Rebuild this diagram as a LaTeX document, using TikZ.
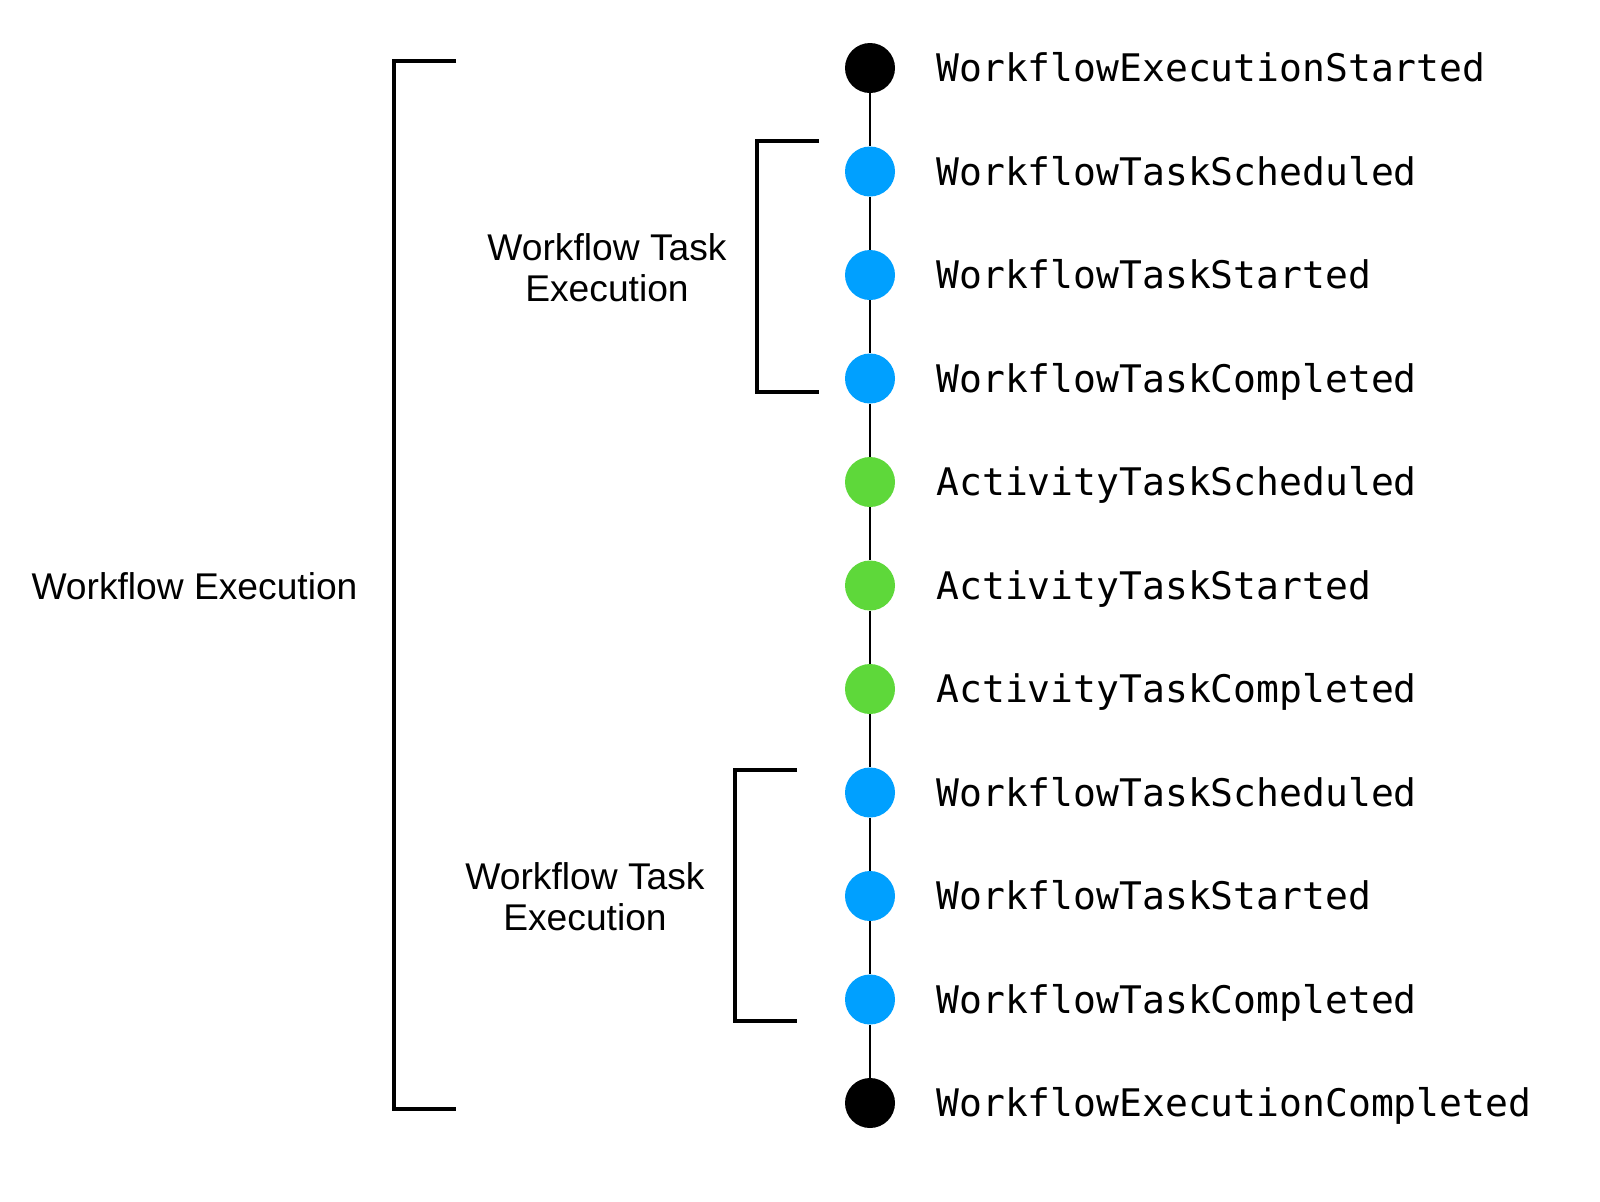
\documentclass[tikz,border=0pt]{standalone}
\usepackage{fontspec}
\setmainfont{Liberation Sans}
\newfontfamily\monof{DejaVu Sans Mono}
\definecolor{wfblue}{HTML}{00A0FF}
\definecolor{actgreen}{HTML}{5ED83A}
\begin{document}
\begin{tikzpicture}[x=0.5pt,y=-0.5pt,
  dotnode/.style={circle,inner sep=0pt,minimum size=25pt},
  evlabel/.style={anchor=base west,inner sep=0pt,font=\monof\fontsize{19}{22}\selectfont},
  grouplabel/.style={align=center,inner sep=0pt,font=\fontsize{18.6}{20.5}\selectfont},
  bracketline/.style={line width=2.2pt,line cap=butt},
  timeline/.style={line width=1.1pt}]
\useasboundingbox (0,0) rectangle (1600,1201);
% dots
\node[dotnode,fill=black]    (e1)  at (870,68)   {};
\node[dotnode,fill=wfblue]   (e2)  at (870,171.5) {};
\node[dotnode,fill=wfblue]   (e3)  at (870,275)  {};
\node[dotnode,fill=wfblue]   (e4)  at (870,378.5) {};
\node[dotnode,fill=actgreen] (e5)  at (870,482)  {};
\node[dotnode,fill=actgreen] (e6)  at (870,585.5) {};
\node[dotnode,fill=actgreen] (e7)  at (870,689)  {};
\node[dotnode,fill=wfblue]   (e8)  at (870,792.5) {};
\node[dotnode,fill=wfblue]   (e9)  at (870,896)  {};
\node[dotnode,fill=wfblue]   (e10) at (870,999.5) {};
\node[dotnode,fill=black]    (e11) at (870,1103) {};
% timeline connectors
\foreach \a/\b in {e1/e2,e2/e3,e3/e4,e4/e5,e5/e6,e6/e7,e7/e8,e8/e9,e9/e10,e10/e11}
  \draw[timeline] (\a) -- (\b);
% event labels
\node[evlabel] (t1)  at (936,81.5)   {WorkflowExecutionStarted};
\node[evlabel] (t2)  at (936,185)    {WorkflowTaskScheduled};
\node[evlabel] (t3)  at (936,288.5)  {WorkflowTaskStarted};
\node[evlabel] (t4)  at (936,392)    {WorkflowTaskCompleted};
\node[evlabel] (t5)  at (936,495.5)  {ActivityTaskScheduled};
\node[evlabel] (t6)  at (936,599)    {ActivityTaskStarted};
\node[evlabel] (t7)  at (936,702.5)  {ActivityTaskCompleted};
\node[evlabel] (t8)  at (936,806)    {WorkflowTaskScheduled};
\node[evlabel] (t9)  at (936,909.5)  {WorkflowTaskStarted};
\node[evlabel] (t10) at (936,1013)   {WorkflowTaskCompleted};
\node[evlabel] (t11) at (936,1116.5) {WorkflowExecutionCompleted};
% brackets
\coordinate (b1a) at (456,61);   \coordinate (b1b) at (394,61);
\coordinate (b1c) at (394,1109); \coordinate (b1d) at (456,1109);
\draw[bracketline] (b1a) -- (b1b) -- (b1c) -- (b1d);
\coordinate (b2a) at (819,141);  \coordinate (b2b) at (757,141);
\coordinate (b2c) at (757,392);  \coordinate (b2d) at (819,392);
\draw[bracketline] (b2a) -- (b2b) -- (b2c) -- (b2d);
\coordinate (b3a) at (797,770);  \coordinate (b3b) at (735,770);
\coordinate (b3c) at (735,1021); \coordinate (b3d) at (797,1021);
\draw[bracketline] (b3a) -- (b3b) -- (b3c) -- (b3d);
% group labels
\node[grouplabel] (g1) at (194.5,586) {Workflow Execution};
\node[grouplabel] (g2) at (607,268) {Workflow Task\\Execution};
\node[grouplabel] (g3) at (585,897) {Workflow Task\\Execution};
\end{tikzpicture}
\end{document}
